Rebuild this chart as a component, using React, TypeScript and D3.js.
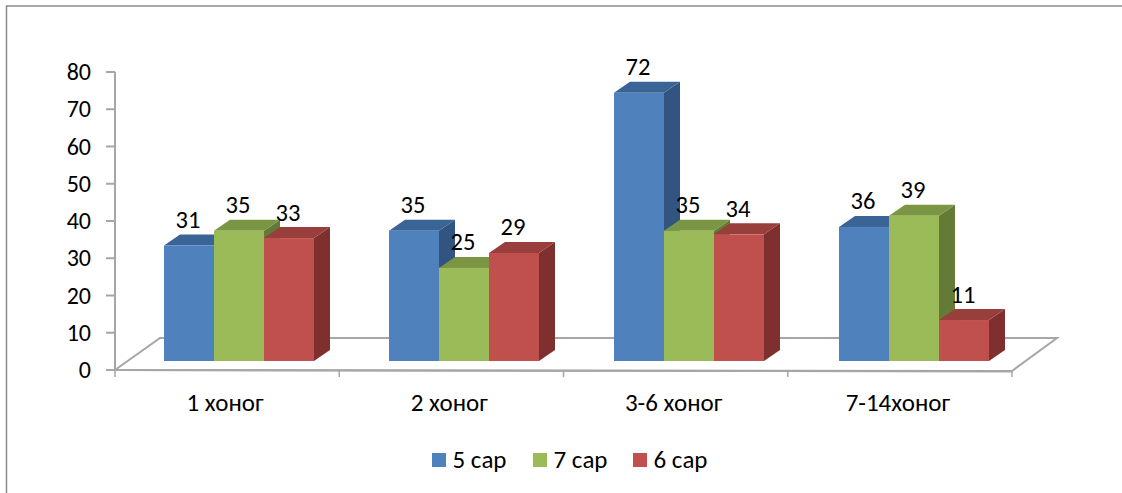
import React from "react";
import * as d3 from "d3";

const categories = ["1 хоног", "2 хоног", "3-6 хоног", "7-14хоног"];
const seriesNames = ["5 сар", "7 сар", "6 сар"];
const values5 = [31, 35, 72, 36];
const values7 = [35, 25, 35, 39];
const values6 = [33, 29, 34, 11];
const yTicks = [0, 10, 20, 30, 40, 50, 60, 70, 80];
const seriesValues = [values5, values7, values6];
const front = ["#4f81bd", "#9bbb59", "#c0504d"];
const topC = ["#3a6396", "#7a9543", "#983e3b"];
const side = ["#315580", "#647a37", "#7f2f2d"];

const FONT = "Carlito, Calibri, Lato, 'Open Sans', 'Noto Sans', sans-serif";
const W = 1122, H = 493;
const x0 = 115, x1 = 1012, yZero = 370, yTop = 72, dx = 16, dy = -11, lift = 9;

export default function App() {
  const y = d3.scaleLinear().domain([0, 80]).range([yZero, yTop]);
  const xCat = d3.scaleBand<string>().domain(categories).range([x0 + 1, x1 + 1]);
  const xBars = d3.scaleBand<string>().domain(categories).range([164, 1064]);
  const xSer = d3.scaleBand<number>().domain([0, 1, 2]).range([0, 150]);
  const pts = (p: number[][]) => p.map((q) => q.join(",")).join(" ");
  const axis = "#a6a6a6";
  const bars: React.ReactNode[] = [];
  categories.forEach((c, ci) => {
    const offset = xBars(c)!;
    seriesValues.forEach((vals, si) => {
      const l = offset + xSer(si)!;
      const r = l + xSer.bandwidth();
      const t = y(vals[ci]) - lift;
      const b = yZero - lift;
      bars.push(
        <g key={`${ci}-${si}`}>
          <polygon points={pts([[r, t], [r + dx, t + dy], [r + dx, b + dy], [r, b]])} fill={side[si]} />
          <polygon points={pts([[l, t], [l + dx, t + dy], [r + dx, t + dy], [r, t]])} fill={topC[si]} />
          <rect x={l} y={t} width={r - l} height={b - t} fill={front[si]} />
        </g>
      );
    });
  });
  const labels: React.ReactNode[] = [];
  categories.forEach((c, ci) => {
    const offset = xBars(c)!;
    seriesValues.forEach((vals, si) => {
      const cx = offset + xSer(si)! + xSer.bandwidth() / 2 - 1;
      labels.push(
        <text key={`${ci}-${si}`} x={cx} y={y(vals[ci]) - lift - 17.5} textAnchor="middle" fontSize={24.5} fill="#000">
          {vals[ci]}
        </text>
      );
    });
  });
  const legendX = [432, 533, 633];
  return (
    <svg width={W} height={H} style={{ position: "absolute", left: 0, top: 0, fontFamily: FONT }}>
      <rect width={W} height={H} fill="#fff" />
      <path d={`M6.5 ${H} V6 H${W}`} fill="none" stroke="#8c8c8c" strokeWidth={1.5} />
      <polygon points={pts([[x0, yZero], [x0 + 45, yZero - 32], [1057, yZero - 32], [x1, yZero + 1]])} fill="#fff" stroke={axis} strokeWidth={2} />
      <line x1={x0} x2={x0} y1={yTop} y2={yZero} stroke={axis} strokeWidth={2} />
      {yTicks.map((t) => (
        <g key={t}>
          <line x1={x0 - 9} x2={x0} y1={y(t)} y2={y(t)} stroke={axis} strokeWidth={2} />
          <text x={91} y={y(t) + 8} textAnchor="end" fontSize={24} fill="#000">{t}</text>
        </g>
      ))}
      <line x1={x0} x2={x1} y1={yZero} y2={yZero + 1.5} stroke={axis} strokeWidth={2} />
      {[...categories.map((c) => xCat(c)! - 1), x1].map((v, i) => (
        <line key={i} x1={v} x2={v} y1={yZero} y2={yZero + 7} stroke={axis} strokeWidth={1.5} />
      ))}
      {bars}
      {labels}
      {categories.map((c) => (
        <text key={c} x={xCat(c)! + xCat.bandwidth() / 2 - 3} y={411} textAnchor="middle" fontSize={25} fill="#000">{c}</text>
      ))}
      {seriesNames.map((s, i) => (
        <g key={s}>
          <rect x={legendX[i]} y={453} width={14} height={14} fill={front[i]} />
          <text x={legendX[i] + 20.5} y={467.5} fontSize={25} fill="#000">{s}</text>
        </g>
      ))}
    </svg>
  );
}
